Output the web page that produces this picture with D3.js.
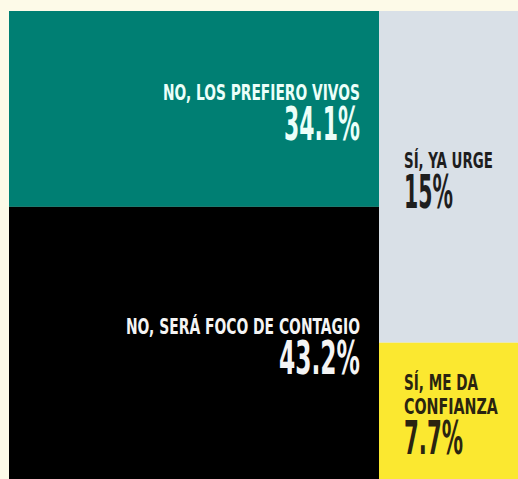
<!DOCTYPE html>
<html>
<head>
<meta charset="utf-8">
<script src="https://cdn.jsdelivr.net/npm/d3@7"></script>
<style>
  html, body { margin: 0; padding: 0; background: #fdfae8; }
  svg { display: block; }
  text { font-family: "Liberation Sans Narrow", "DejaVu Sans Condensed", "Roboto", sans-serif; font-weight: bold; }
</style>
</head>
<body>
<svg id="chart" width="518" height="479"></svg>
<script>
// ---- data ----
const groups = ["NO", "SÍ"];
const categories = ["NO, LOS PREFIERO VIVOS", "NO, SERÁ FOCO DE CONTAGIO", "SÍ, YA URGE", "SÍ, ME DA CONFIANZA"];
const categoryGroup = ["NO", "NO", "SÍ", "SÍ"];
const values = [34.1, 43.2, 15, 7.7];
const valueLabels = ["34.1%", "43.2%", "15%", "7.7%"];
const labelLines = [["NO, LOS PREFIERO VIVOS"], ["NO, SERÁ FOCO DE CONTAGIO"], ["SÍ, YA URGE"], ["SÍ, ME DA", "CONFIANZA"]];

// ---- style ----
const fills = ["#007f73", "#000000", "#d9e0e7", "#fbe830"];
const textFills = ["#ecfff9", "#f4f4f4", "#1e1e1e", "#2a2410"];
const W = 518, H = 479;
const chartTop = 11, chartLeft = 9, split = 379;
// target widths (px) of each rendered text, to match condensed display face
const lineWidths = [[197], [234], [89], [74, 94]];
const valueWidths = [76, 81, 49, 59];
const align = { "NO": "end", "SÍ": "start" };

const svg = d3.select("#chart");

// column (group) extents along x
const groupX = d3.scaleOrdinal().domain(groups).range([[chartLeft, split], [split, W]]);
// per-column vertical scales (the picture is cropped at the bottom)
const groupBottom = { "NO": 455, "SÍ": 513 };
const totals = d3.rollup(values.map((v, i) => ({ v, g: categoryGroup[i] })), a => d3.sum(a, d => d.v), d => d.g);
const yScales = {};
groups.forEach(g => {
  yScales[g] = d3.scaleLinear().domain([0, totals.get(g)]).range([chartTop, groupBottom[g]]);
});

const cum = {};
const cells = values.map((v, i) => {
  const g = categoryGroup[i];
  const start = cum[g] || 0;
  cum[g] = start + v;
  const [x0, x1] = groupX(g);
  const isLast = Math.abs(cum[g] - totals.get(g)) < 1e-9;
  let y1 = yScales[g](start + v);
  if (isLast) y1 = H; // last block runs off the cropped bottom edge
  return { i, g, x0, x1, y0: yScales[g](start), y1: Math.min(y1, H) };
});

svg.append("rect").attr("width", W).attr("height", H).attr("fill", "#fdfae8");

svg.selectAll("rect.cell").data(cells).join("rect")
  .attr("class", "cell")
  .attr("x", d => d.x0).attr("y", d => d.y0)
  .attr("width", d => d.x1 - d.x0).attr("height", d => d.y1 - d.y0)
  .attr("fill", d => fills[d.i]);

const labelSize = 22, lineGap = 24, valueSize = 46, valueGap = 40, capL = 16;

function fitted(g, str, x, y, size, fill, target, anchor) {
  const t = g.append("text")
    .attr("font-size", size)
    .attr("fill", fill)
    .text(str);
  const natural = t.node().getComputedTextLength();
  const sx = target / natural;
  const dx = anchor === "end" ? -target : 0;
  t.attr("transform", `translate(${x + dx},${y}) scale(${sx},1)`);
  return t;
}

cells.forEach(d => {
  const lines = labelLines[d.i];
  const center = (d.y0 + d.y1) / 2 + 3.5;
  const blockH = capL + (lines.length - 1) * lineGap + valueGap;
  const firstBase = center - blockH / 2 + capL;
  const anchor = align[d.g];
  const x = anchor === "end" ? d.x1 - 19 : d.x0 + 25;
  const g = svg.append("g");
  lines.forEach((ln, k) => {
    fitted(g, ln, x, firstBase + k * lineGap, labelSize, textFills[d.i], lineWidths[d.i][k], anchor);
  });
  fitted(g, valueLabels[d.i], x, firstBase + (lines.length - 1) * lineGap + valueGap,
    valueSize, textFills[d.i], valueWidths[d.i], anchor);
});
</script>
</body>
</html>
